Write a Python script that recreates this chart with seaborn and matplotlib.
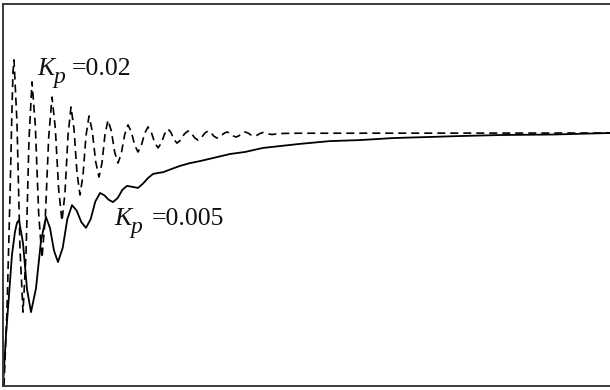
import matplotlib
matplotlib.use("Agg")
import matplotlib.pyplot as plt
import seaborn as sns
import pandas as pd

# Step responses of the speed loop for two proportional gains (time, normalised output)
t_kp002 = [1, 4, 7, 9, 10, 11, 14, 17, 20, 23, 26, 29, 32.3, 35.7, 39, 42.3, 45.7,
           49, 52.3, 55.7, 59, 62, 65, 68, 71, 74, 77, 80, 83, 86, 89.3, 92.7, 96,
           99, 102, 105, 108.3, 111.7, 115, 118.3, 121.7, 125, 128.3, 131.7, 135,
           138.3, 141.7, 145, 148.3, 151.7, 155, 158.3, 161.7, 165, 168, 171, 174,
           177.7, 181.3, 185, 188.3, 191.7, 195, 198.3, 201.7, 205, 208, 211, 214,
           217.3, 220.7, 224, 227, 230, 233, 236, 239, 242, 245, 248, 251, 254,
           257, 260, 263, 266, 269, 278, 290, 607]
y_kp002 = [0.0, 0.3, 0.75, 1.1, 1.24, 1.289, 1.04, 0.54, 0.292, 0.52, 0.975,
           1.202, 1.03, 0.68, 0.506, 0.665, 0.983, 1.142, 1.02, 0.775, 0.652,
           0.765, 0.99, 1.103, 1.016, 0.842, 0.755, 0.833, 0.989, 1.067, 1.007,
           0.886, 0.826, 0.882, 0.995, 1.051, 1.009, 0.924, 0.881, 0.919, 0.994,
           1.032, 1.005, 0.952, 0.925, 0.950, 0.999, 1.024, 1.003, 0.962, 0.941,
           0.960, 0.997, 1.016, 1.002, 0.974, 0.960, 0.972, 0.996, 1.008, 0.999,
           0.981, 0.972, 0.981, 0.999, 1.008, 1.001, 0.987, 0.980, 0.986, 0.998,
           1.004, 0.999, 0.989, 0.984, 0.989, 0.999, 1.004, 1.0, 0.992, 0.988,
           0.991, 0.998, 1.002, 1.0, 0.996, 0.994, 0.998, 0.999, 1.0]

t_kp0005 = [0, 3, 6, 9, 12, 14, 16, 20, 24, 28, 33, 38, 43, 47, 51, 55, 59.7,
            64.3, 69, 73.7, 78.3, 83, 87.7, 92.3, 97, 101.3, 105.7, 110, 114.7,
            119.3, 124, 129.5, 135, 140, 145, 150, 155, 160, 166, 177, 187, 197,
            210, 227, 242, 260, 297, 327, 357, 390, 424, 457, 497, 550, 607]
y_kp0005 = [0.0, 0.2, 0.36, 0.52, 0.61, 0.645, 0.656, 0.565, 0.383, 0.292,
            0.386, 0.574, 0.668, 0.624, 0.535, 0.49, 0.546, 0.659, 0.715, 0.693,
            0.648, 0.625, 0.660, 0.729, 0.763, 0.754, 0.736, 0.727, 0.743, 0.775,
            0.791, 0.787, 0.783, 0.80, 0.822, 0.838, 0.842, 0.845, 0.854, 0.870,
            0.881, 0.889, 0.901, 0.917, 0.925, 0.941, 0.957, 0.968, 0.972, 0.980,
            0.984, 0.988, 0.992, 0.994, 1.0]

# gain labels: (symbol, subscript, value)
gain_labels = [("K", "p", "=0.02"), ("K", "p", "=0.005")]

df_a = pd.DataFrame({"t": t_kp002, "y": y_kp002})
df_b = pd.DataFrame({"t": t_kp0005, "y": y_kp0005})

sns.set_style("white")
plt.rcParams["font.family"] = ["Liberation Serif", "DejaVu Serif"]

W, H = 610, 390
fig = plt.figure(figsize=(W / 100, H / 100), dpi=100)
ax = fig.add_axes([3 / W, 4 / H, 1.0, 382 / H])

sns.lineplot(data=df_b, x="t", y="y", ax=ax, color="black", lw=1.3,
             estimator=None, sort=False)
line = sns.lineplot(data=df_a, x="t", y="y", ax=ax, color="black", lw=1.2,
                    estimator=None, sort=False).lines[-1]
line.set_dashes((4.8, 3.0))

ax.set_xlim(0, 610)
ax.set_ylim(0, 382 / 253)
ax.set_xticks([])
ax.set_yticks([])
ax.set_xlabel("")
ax.set_ylabel("")
for sp in ax.spines.values():
    sp.set_visible(True)
    sp.set_color("#3a3a3a")
    sp.set_linewidth(1.4)


def px_text(x, y, s, **kw):
    # place text by pixel position measured from the top-left corner
    fig.text(x / W, 1 - y / H, s, va="baseline", ha="left", color="#111111", **kw)


# label anchors: K left edge, baseline, value left edge
for (sym, sub, val), (x0, y0, xv) in zip(gain_labels, [(37, 75, 72), (114, 225, 152)]):
    px_text(x0, y0, sym, fontsize=18.5, style="italic")
    px_text(x0 + 16, y0 + 8, sub, fontsize=17, style="italic")
    px_text(xv, y0, val, fontsize=18.5)

fig.savefig("out.png", dpi=100)
